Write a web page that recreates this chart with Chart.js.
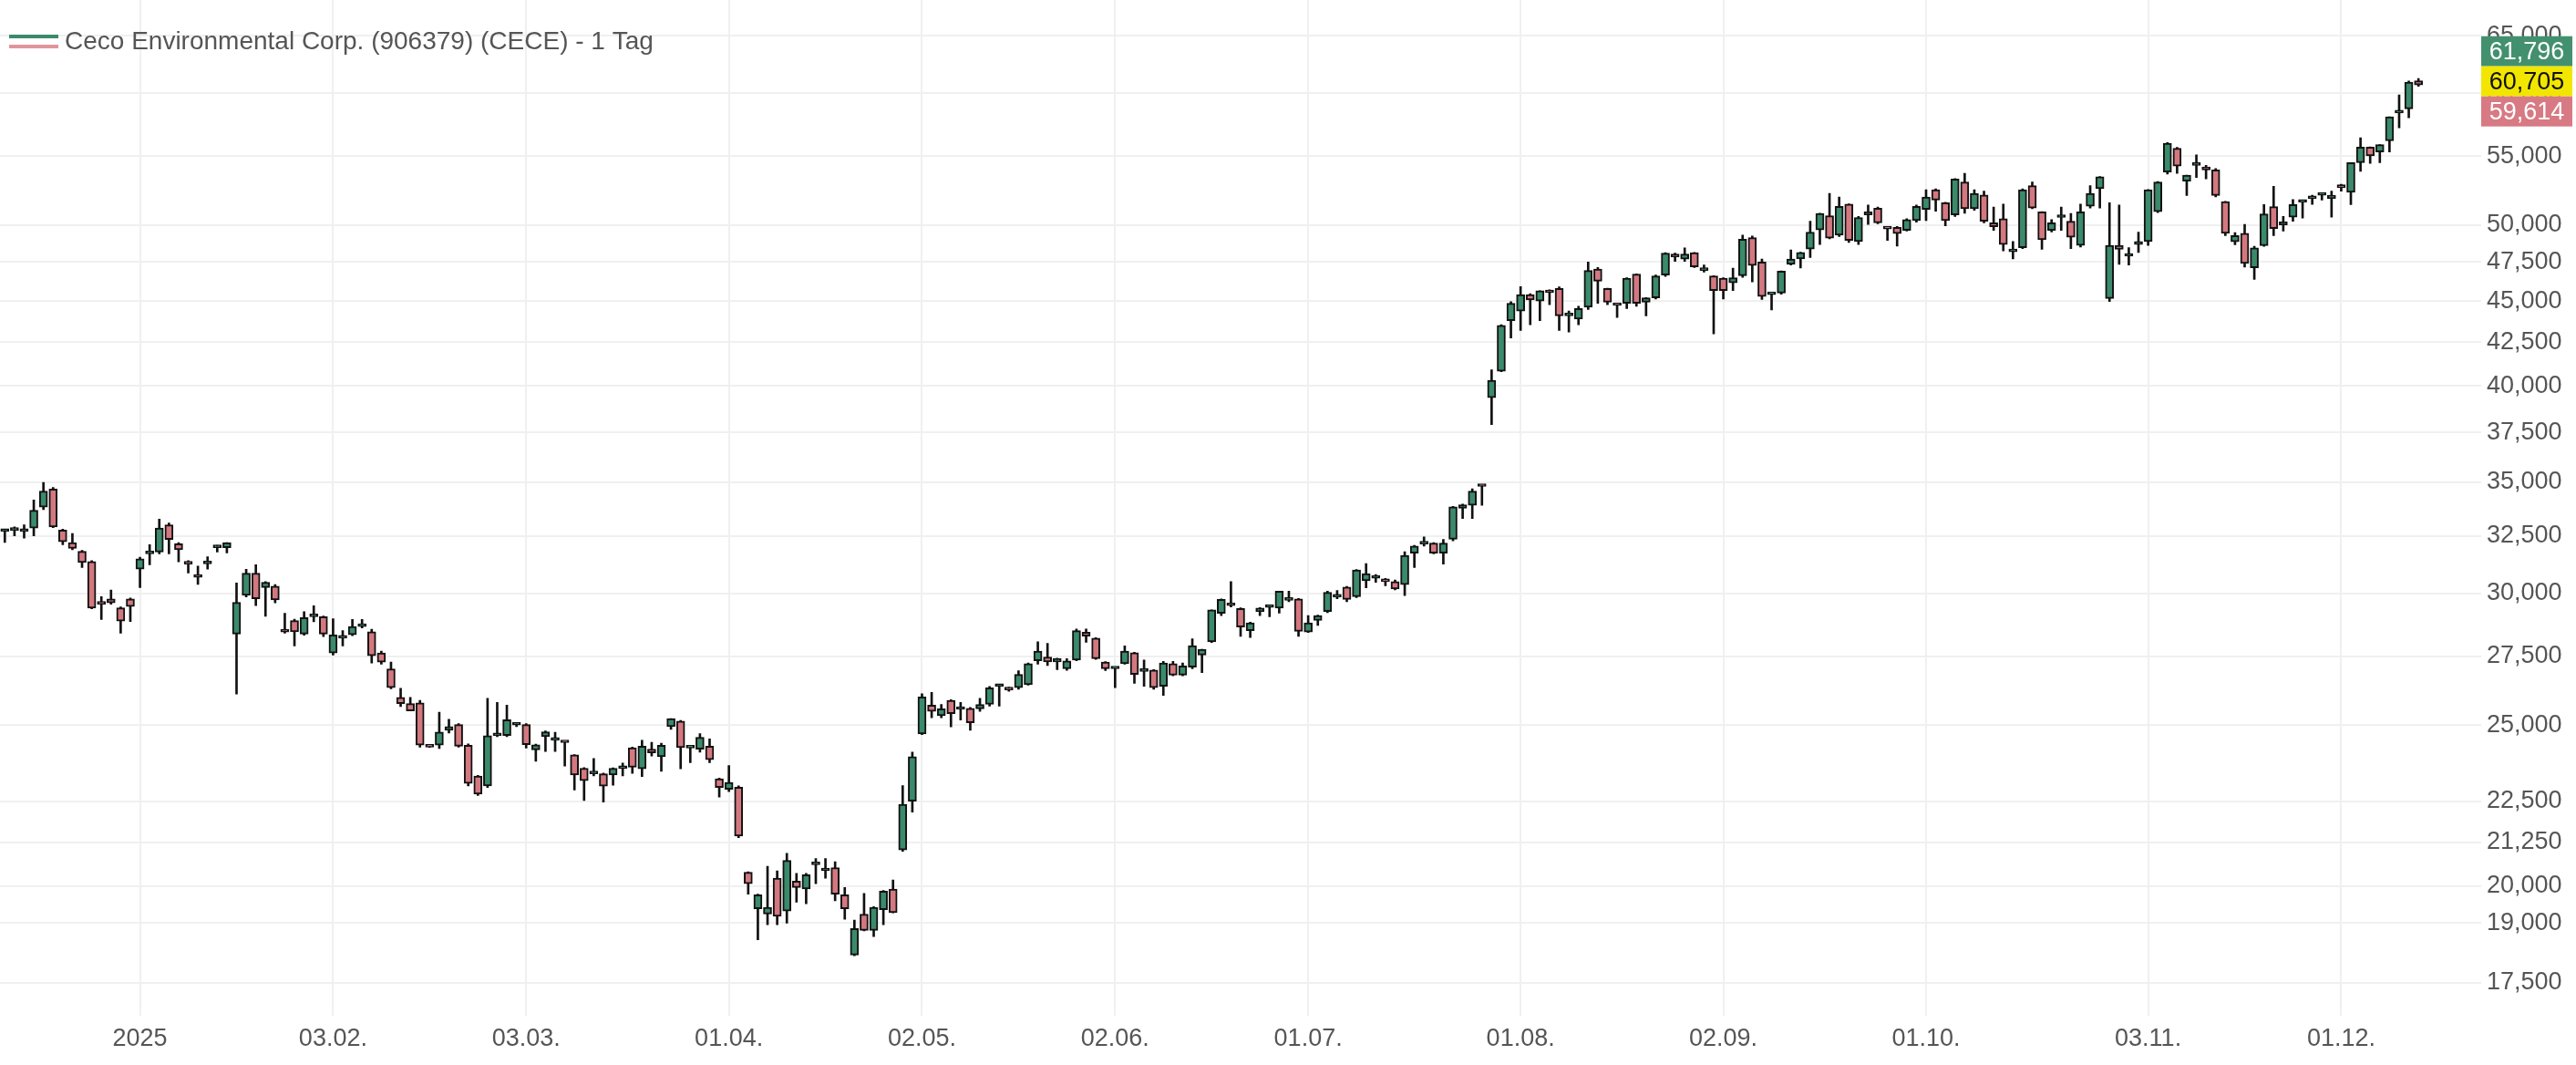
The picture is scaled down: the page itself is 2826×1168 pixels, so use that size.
<!DOCTYPE html>
<html>
<head>
<meta charset="utf-8">
<script src="https://cdn.jsdelivr.net/npm/chart.js@4/dist/chart.umd.min.js"></script>
<style>
  html, body { margin: 0; padding: 0; background: #fff; }
  #wrap { width: 2826px; height: 1168px; }
</style>
</head>
<body>
<div id="wrap"><canvas id="kurs" width="2826" height="1168"></canvas></div>
<script>
// Handelstage (Jahr, Monat, Tage)
const tradingDays = [
  ['2024', '12', [11,12,13,16,17,18,19,20,23,24,26,27,30,31]],
  ['2025', '01', [2,3,6,7,8,10,13,14,15,16,17,21,22,23,24,27,28,29,30,31]],
  ['2025', '02', [3,4,5,6,7,10,11,12,13,14,17,18,19,20,21,24,25,26,27,28]],
  ['2025', '03', [3,4,5,6,7,10,11,12,13,14,17,18,19,20,21,24,25,26,27,28,31]],
  ['2025', '04', [1,2,3,4,7,8,9,10,11,14,15,16,17,22,23,24,25,28,29,30]],
  ['2025', '05', [2,5,6,7,8,9,12,13,14,15,16,19,20,21,22,23,27,28,29,30]],
  ['2025', '06', [2,3,4,5,6,9,10,11,12,13,16,17,18,20,23,24,25,26,27,30]],
  ['2025', '07', [1,2,3,7,8,9,10,11,14,15,16,17,18,21,22,23,24,25,28,29,30,31]],
  ['2025', '08', [1,4,5,6,7,8,11,12,13,14,15,18,19,20,21,22,25,26,27,28,29]],
  ['2025', '09', [2,3,4,5,8,9,10,11,12,15,16,17,18,19,22,23,24,25,26,29,30]],
  ['2025', '10', [1,2,3,6,7,8,9,10,13,14,15,16,17,20,21,22,23,24,27,28,29,30,31]],
  ['2025', '11', [3,4,5,6,7,10,11,12,13,14,17,18,19,20,21,24,25,26,27,28]],
  ['2025', '12', [1,2,3,4,5,8,9,10,11]]
];

const open = [
  32.70,32.75,32.70,32.85,33.82,34.68,32.76,32.20,31.81,31.36,
  29.58,29.78,29.41,29.78,31.03,31.70,31.78,33.00,32.14,31.30,
  30.70,31.26,31.97,31.97,28.36,29.93,30.86,30.25,30.31,28.45,
  28.90,28.36,29.05,29.05,27.63,28.20,28.33,28.66,28.45,27.63,
  27.03,25.98,25.76,25.78,24.26,24.32,24.82,25.02,24.31,23.30,
  22.98,24.64,24.64,25.00,25.02,24.16,24.60,24.48,24.42,23.99,
  23.55,23.37,23.37,23.33,23.54,24.23,23.53,24.18,23.93,24.95,
  25.14,24.22,24.18,24.28,23.21,22.87,22.94,20.39,19.38,19.24,
  20.22,19.32,20.14,19.92,20.60,20.43,20.52,19.76,18.18,19.24,
  18.81,19.36,19.92,21.03,22.50,24.70,25.70,25.33,25.87,25.55,
  25.59,25.57,25.73,26.38,26.27,26.33,26.44,27.33,27.47,27.29,
  27.03,27.36,28.44,28.20,27.28,27.03,27.22,27.64,26.93,26.98,
  26.38,27.22,26.79,27.09,27.55,28.06,29.19,29.54,29.39,28.50,
  29.26,29.43,29.40,29.72,29.78,28.44,28.90,29.26,29.85,30.27,
  29.87,30.54,30.64,30.52,30.50,30.37,31.73,32.13,32.17,31.73,
  32.34,33.76,33.90,34.84,39.35,40.82,43.79,44.38,45.40,45.00,
  45.65,45.79,44.08,43.89,44.61,47.04,45.79,44.75,44.86,46.71,
  44.92,45.20,46.65,48.03,47.69,48.11,46.94,46.59,46.45,46.15,
  46.60,49.13,47.50,45.40,45.50,47.35,47.70,48.35,49.66,50.65,
  49.30,51.46,48.87,50.70,51.18,49.76,49.83,49.62,50.30,51.09,
  52.50,51.57,50.70,53.06,51.14,52.12,50.15,50.43,48.18,48.45,
  52.80,50.92,49.62,50.52,50.26,48.60,51.31,52.57,45.15,48.60,
  47.88,48.66,48.87,50.92,53.80,55.60,53.13,54.30,54.18,53.96,
  51.65,48.85,49.42,47.12,48.58,51.28,50.00,50.55,51.60,51.85,
  52.10,51.87,52.86,52.31,54.51,55.69,55.32,56.18,58.40,58.73,61.05
];
const high = [
  32.80,32.90,33.00,34.15,35.00,34.75,32.80,32.60,31.85,31.40,
  29.87,30.15,29.45,29.82,31.55,32.10,33.26,33.08,32.20,31.40,
  31.16,31.57,32.07,32.20,30.44,31.03,31.22,30.50,30.38,29.19,
  28.95,29.26,29.50,29.08,28.97,28.50,28.94,28.94,28.55,27.70,
  27.28,26.31,25.98,25.87,24.28,25.45,25.20,25.05,24.36,23.32,
  25.95,25.80,25.70,25.05,25.05,24.35,24.80,24.75,24.43,24.00,
  23.57,23.87,23.39,23.56,23.72,24.25,24.48,24.41,24.38,25.23,
  25.16,24.25,24.71,24.53,23.23,23.64,22.98,20.40,19.78,20.56,
  20.43,20.93,20.36,20.36,20.78,20.78,20.69,19.96,19.08,19.80,
  19.44,19.88,20.17,22.99,24.08,26.11,26.16,25.73,25.90,25.80,
  25.62,25.95,26.38,26.44,26.35,26.96,27.25,28.06,28.00,27.43,
  27.41,28.56,28.56,28.22,27.30,27.06,27.90,27.66,27.36,27.00,
  27.31,27.31,27.25,28.18,27.77,29.33,29.78,30.50,29.41,28.83,
  29.42,29.50,30.10,30.10,29.80,29.10,29.12,30.10,30.13,30.30,
  31.02,31.27,30.80,30.64,30.57,31.79,32.07,32.45,32.19,32.34,
  33.85,33.96,34.69,34.86,40.90,43.55,44.96,45.91,45.46,45.65,
  45.70,45.89,44.38,44.67,47.50,47.14,45.81,44.77,46.47,46.73,
  45.22,46.65,48.11,48.08,48.43,48.13,47.30,46.61,46.47,47.10,
  49.30,49.24,47.70,45.42,46.92,48.30,48.15,50.26,50.82,52.23,
  51.97,51.48,50.59,51.40,51.25,49.78,49.90,50.43,51.40,52.50,
  52.57,51.60,53.32,53.71,52.50,52.40,51.25,51.46,48.87,52.57,
  53.06,50.94,50.37,51.25,50.81,51.46,52.80,53.47,51.57,51.40,
  48.45,49.51,52.52,53.10,56.04,55.68,53.57,55.10,54.30,54.07,
  51.67,49.48,50.04,48.54,51.43,52.75,50.60,51.80,51.65,52.10,
  52.20,52.40,52.90,54.51,56.43,55.71,55.89,58.08,59.88,61.03,61.25
];
const low = [
  32.20,32.50,32.40,32.50,33.70,32.87,32.10,31.88,31.10,29.37,
  28.94,29.56,28.40,28.86,30.25,31.22,31.70,31.70,31.35,30.87,
  30.38,31.03,31.78,31.74,26.10,29.86,29.50,29.07,29.62,28.40,
  27.90,28.32,28.85,28.26,27.55,27.90,28.30,28.60,27.25,27.20,
  26.29,25.65,25.50,24.25,24.24,24.20,24.73,24.25,22.98,22.68,
  22.93,24.60,24.60,24.95,24.22,23.78,24.10,24.10,23.62,22.85,
  22.52,23.30,22.47,23.00,23.30,23.38,23.28,23.95,23.45,24.85,
  23.53,23.73,24.08,23.73,22.63,22.80,21.39,19.78,18.57,18.96,
  18.96,19.00,19.56,19.52,20.07,20.22,19.60,19.10,18.16,18.80,
  18.65,18.96,19.27,20.99,22.16,24.67,25.26,25.26,24.94,25.18,
  24.82,25.48,25.67,25.67,26.20,26.27,26.42,27.20,27.15,27.00,
  26.97,27.33,28.04,27.38,26.96,26.33,27.20,26.49,26.38,26.27,
  26.05,26.77,26.77,27.03,26.89,28.03,29.10,29.45,28.27,28.23,
  29.10,29.05,29.20,29.66,28.27,28.42,28.70,29.22,29.78,29.66,
  29.83,30.24,30.47,30.33,30.15,29.92,31.10,32.04,31.70,31.25,
  32.27,33.29,33.29,33.90,37.91,40.80,42.75,43.20,43.54,43.79,
  44.77,43.20,43.10,43.54,44.47,44.86,44.77,43.98,44.53,44.67,
  44.08,45.12,46.55,47.54,47.54,47.14,46.84,43.00,45.12,45.66,
  46.50,46.20,45.10,44.45,45.43,47.30,47.10,47.80,48.66,49.05,
  49.20,48.80,48.66,50.04,50.08,48.94,48.55,49.58,50.20,50.30,
  50.96,49.94,50.59,50.81,51.03,50.15,49.62,48.24,47.70,48.39,
  51.14,48.34,49.51,49.62,48.39,48.50,51.18,51.18,44.96,47.35,
  47.30,48.13,48.60,50.87,53.65,53.71,52.09,53.40,53.30,51.98,
  49.27,48.65,47.16,46.37,48.54,49.27,49.58,50.26,50.48,51.45,
  51.76,50.55,52.40,51.43,53.86,54.45,54.51,55.32,57.20,58.00,60.60
];
const close = [
  32.72,32.75,32.80,33.67,34.58,32.90,32.23,31.94,31.32,29.40,
  29.56,29.62,28.88,29.47,31.48,31.72,32.85,32.33,31.88,31.25,
  30.68,31.27,31.98,32.20,29.64,30.86,29.78,30.47,29.74,28.44,
  28.45,29.02,29.06,28.36,28.33,28.21,28.66,28.67,27.52,27.28,
  26.33,25.76,25.50,24.32,24.25,24.76,24.95,24.28,23.06,22.72,
  24.64,24.66,25.19,25.01,24.33,24.33,24.77,24.49,24.40,23.33,
  23.15,23.38,22.97,23.55,23.55,23.58,24.28,24.06,24.31,25.23,
  24.23,24.23,24.58,23.83,22.93,23.09,21.44,20.07,19.76,19.42,
  19.18,20.73,19.96,20.32,20.61,20.44,19.78,19.38,18.86,18.81,
  19.42,19.86,19.28,22.40,23.93,26.00,25.48,25.57,25.40,25.56,
  25.08,25.73,26.33,26.39,26.25,26.82,27.22,27.70,27.29,27.41,
  27.33,28.50,28.28,27.41,27.03,27.04,27.70,26.82,26.94,26.33,
  27.25,26.79,27.14,27.91,27.77,29.33,29.76,29.50,28.64,28.81,
  29.40,29.44,30.10,29.73,28.47,28.81,29.10,30.05,29.86,29.76,
  31.00,30.84,30.65,30.50,30.19,31.63,32.04,32.14,31.73,32.17,
  33.83,33.93,34.58,34.80,40.32,43.50,44.86,45.40,45.06,45.65,
  45.52,44.08,44.09,44.53,46.94,46.25,44.92,44.72,46.45,44.86,
  45.20,46.59,48.08,47.82,48.03,47.18,46.95,45.65,45.65,46.47,
  49.03,47.27,45.28,45.41,46.90,47.70,48.13,49.51,50.80,49.09,
  51.31,48.94,50.52,50.92,50.15,49.72,49.41,50.37,51.31,51.97,
  51.75,50.30,53.28,51.14,52.23,50.26,49.87,48.66,48.19,52.50,
  51.18,48.98,50.15,50.53,49.15,50.92,52.23,53.45,48.60,48.34,
  47.89,48.87,52.50,53.06,56.00,54.24,53.57,54.31,53.96,52.09,
  49.42,49.27,47.40,48.44,50.77,49.75,50.22,51.43,51.61,51.90,
  52.11,52.10,52.64,54.51,55.69,55.02,55.89,58.08,58.41,60.95,60.705
];

// Achsenbeschriftungen
const yTicks = [17.5, 19, 20, 21.25, 22.5, 25, 27.5, 30, 32.5, 35, 37.5, 40, 42.5, 45, 47.5, 50, 55, 60, 65];
const xTickDates = ['02.01.2025','03.02.2025','03.03.2025','01.04.2025','02.05.2025','02.06.2025',
                    '01.07.2025','01.08.2025','02.09.2025','01.10.2025','03.11.2025','01.12.2025'];
const xTickText = ['2025','03.02.','03.03.','01.04.','02.05.','02.06.','01.07.','01.08.','02.09.','01.10.','03.11.','01.12.'];

// Kursboxen rechts oben
const quoteAsk = 61.796;
const quoteLast = 60.705;
const quoteBid = 59.614;
const title = 'Ceco Environmental Corp. (906379) (CECE) - 1 Tag';

const GREEN = '#3a8a6b';
const RED = '#d47880';
const FONT = "'Liberation Sans', Arial, sans-serif";

const dates = [];
tradingDays.forEach(([yr, mo, days]) => {
  days.forEach(d => dates.push(String(d).padStart(2, '0') + '.' + mo + '.' + yr));
});
const labels = dates.concat(['', '', '', '', '', '']);  // leerer Raum rechts
const xTickIdx = xTickDates.map(d => dates.indexOf(d));

const bodies = dates.map((d, i) => [open[i], close[i]]);
const wicks = dates.map((d, i) => [low[i], high[i]]);
const bodyColors = dates.map((d, i) => close[i] >= open[i] ? GREEN : RED);

const fmt = v => v.toFixed(3).replace('.', ',');

const overlay = {
  id: 'overlay',
  afterDraw(chart) {
    const c = chart.ctx;
    const y = chart.scales.y;
    c.save();
    // Titel mit Doppellinie
    c.fillStyle = GREEN;
    c.fillRect(10, 38, 54, 4);
    c.fillStyle = '#e0959b';
    c.fillRect(10, 49, 54, 4);
    c.font = '28px ' + FONT;
    c.fillStyle = '#555';
    c.textBaseline = 'middle';
    c.textAlign = 'left';
    c.fillText(title, 71, 46);

    // Kursboxen
    const mid = y.getPixelForValue(quoteLast) - 4;
    const bx = chart.chartArea.right, bw = 100, bh = 33;
    const boxes = [
      [quoteAsk, '#43906f', '#fff', mid - bh * 1.5],
      [quoteLast, '#f2e600', '#111', mid - bh * 0.5],
      [quoteBid, '#d77a83', '#fff', mid + bh * 0.5]
    ];
    c.font = '27px ' + FONT;
    c.textAlign = 'center';
    boxes.forEach(([v, bg, fg, top]) => {
      c.fillStyle = bg;
      c.fillRect(bx, top, bw, bh);
      c.fillStyle = fg;
      c.fillText(fmt(v), bx + bw / 2, top + bh / 2 + 1);
    });
    c.restore();
  }
};

const ctx = document.getElementById('kurs').getContext('2d');
new Chart(ctx, {
  type: 'bar',
  data: {
    labels: labels,
    datasets: [
      {
        label: 'Kerzen',
        data: bodies,
        backgroundColor: bodyColors,
        borderColor: '#111',
        borderWidth: 2,
        borderSkipped: false,
        barThickness: 9,
        minBarLength: 3,
        grouped: false,
        order: 0
      },
      {
        label: 'Dochte',
        data: wicks,
        backgroundColor: '#111',
        barThickness: 2,
        grouped: false,
        order: 1
      }
    ]
  },
  options: {
    responsive: false,
    animation: false,
    layout: { padding: { left: 0, right: 0, top: 0, bottom: 2 } },
    plugins: { legend: { display: false }, tooltip: { enabled: false } },
    scales: {
      x: {
        offset: true,
        grid: { offset: false, color: '#f0f0f0', lineWidth: 2, drawTicks: false },
        border: { display: false },
        afterBuildTicks: s => { s.ticks = xTickIdx.map(i => ({ value: i })); },
        ticks: {
          autoSkip: false,
          maxRotation: 0,
          padding: 10,
          color: '#555',
          font: { family: FONT, size: 27 },
          callback: (v, i) => xTickText[i]
        }
      },
      y: {
        type: 'logarithmic',
        position: 'right',
        min: 16.72,
        max: 68.29,
        grid: { color: '#f0f0f0', lineWidth: 2, drawTicks: false },
        border: { display: false },
        afterBuildTicks: s => { s.ticks = yTicks.map(v => ({ value: v })); },
        afterFit: s => { s.width = 104; s.paddingTop = 0; s.paddingBottom = 0; },
        ticks: {
          autoSkip: false,
          padding: 6,
          color: '#555',
          font: { family: FONT, size: 27 },
          callback: v => fmt(v)
        }
      }
    }
  },
  plugins: [overlay]
});
</script>
</body>
</html>
